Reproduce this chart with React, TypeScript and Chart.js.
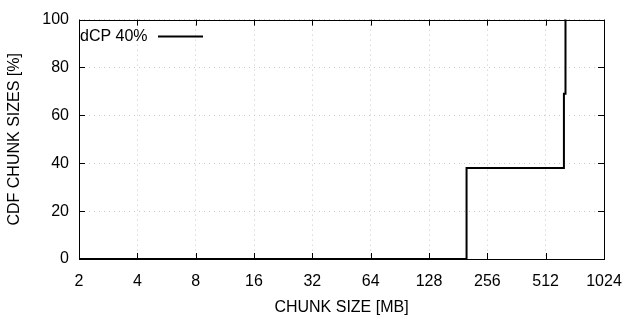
import React, { useEffect, useRef } from "react";
import { Chart, registerables } from "chart.js";

Chart.register(...registerables);

const seriesLabel = "dCP 40%";
const chunkSizes = [2, 200, 636, 648];
const cdfValues = [0, 38, 69, 100];
const xTickValues = [2, 4, 8, 16, 32, 64, 128, 256, 512, 1024];
const yTickValues = [0, 20, 40, 60, 80, 100];

const FONT = "'Liberation Sans', Arial, sans-serif";
const FS = 16;

const framePlugin = {
  id: "frame",
  afterDraw(chart: any) {
    const { ctx, chartArea: a, scales } = chart;
    const x = scales.x;
    const y = scales.y;
    ctx.save();
    ctx.strokeStyle = "#000";
    ctx.lineWidth = 1;
    ctx.setLineDash([]);
    ctx.strokeRect(Math.round(a.left) + 0.5, Math.round(a.top) + 0.5, Math.round(a.right - a.left), Math.round(a.bottom - a.top));
    const tl = 6;
    ctx.beginPath();
    xTickValues.forEach((v) => {
      const px = Math.round(x.getPixelForValue(v)) + 0.5;
      ctx.moveTo(px, a.bottom);
      ctx.lineTo(px, a.bottom - tl);
      ctx.moveTo(px, a.top);
      ctx.lineTo(px, a.top + tl);
    });
    yTickValues.forEach((v) => {
      const py = Math.round(y.getPixelForValue(v)) + 0.5;
      ctx.moveTo(a.left, py);
      ctx.lineTo(a.left + tl, py);
      ctx.moveTo(a.right, py);
      ctx.lineTo(a.right - tl, py);
    });
    ctx.stroke();
    // legend
    const label = chart.data.datasets[0].label;
    ctx.font = FS + "px " + FONT;
    ctx.fillStyle = "#000";
    ctx.textBaseline = "middle";
    ctx.textAlign = "left";
    ctx.fillText(label, a.left + 1, a.top + 17);
    ctx.lineWidth = 2;
    ctx.beginPath();
    ctx.moveTo(a.left + 79, a.top + 17);
    ctx.lineTo(a.left + 124, a.top + 17);
    ctx.stroke();
    ctx.restore();
  },
};

export default function App() {
  const ref = useRef<HTMLCanvasElement>(null);
  useEffect(() => {
    if (!ref.current) return;
    const chart = new Chart(ref.current, {
      type: "line",
      data: {
        datasets: [
          {
            label: seriesLabel,
            data: chunkSizes.map((v, i) => ({ x: v, y: cdfValues[i] })),
            borderColor: "#000",
            borderWidth: 2,
            pointRadius: 0,
            stepped: "before",
            fill: false,
            clip: false as any,
          },
        ],
      },
      options: {
        animation: false,
        responsive: true,
        maintainAspectRatio: false,
        layout: { padding: { top: 18, right: 36, left: 0, bottom: 0 } },
        plugins: { legend: { display: false }, tooltip: { enabled: false } },
        scales: {
          x: {
            type: "logarithmic",
            min: 2,
            max: 1024,
            afterBuildTicks: (s: any) => {
              s.ticks = xTickValues.map((v) => ({ value: v }));
            },
            afterFit: (s: any) => {
              s.height = 61;
            },
            ticks: {
              autoSkip: false,
              maxRotation: 0,
              padding: 13,
              color: "#000",
              font: { family: FONT, size: FS },
              callback: (v: any) => String(v),
            },
            grid: { color: "#c8c8c8", lineWidth: 1, drawTicks: false },
            border: { display: false, dash: [1, 4] },
            title: {
              display: true,
              text: "CHUNK SIZE [MB]",
              color: "#000",
              font: { family: FONT, size: FS },
              padding: { top: 0, bottom: 3 },
            },
          },
          y: {
            type: "linear",
            min: 0,
            max: 100,
            afterBuildTicks: (s: any) => {
              s.ticks = yTickValues.map((v) => ({ value: v }));
            },
            afterFit: (s: any) => {
              s.width = 79;
            },
            ticks: {
              padding: 10,
              color: "#000",
              font: { family: FONT, size: FS },
            },
            grid: { color: "#c8c8c8", lineWidth: 1, drawTicks: false },
            border: { display: false, dash: [1, 4] },
            title: {
              display: true,
              text: "CDF CHUNK SIZES [%]",
              color: "#000",
              font: { family: FONT, size: FS },
              padding: { top: 5, bottom: 0 },
            },
          },
        },
      },
      plugins: [framePlugin],
    } as any);
    return () => chart.destroy();
  }, []);
  return (
    <div style={{ position: "absolute", left: 0, top: 0, width: 640, height: 320, background: "#fff" }}>
      <canvas ref={ref} />
    </div>
  );
}
